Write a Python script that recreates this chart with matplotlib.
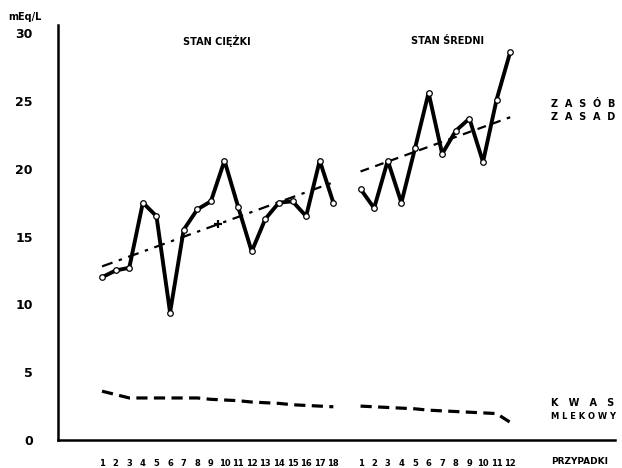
import numpy as np
import matplotlib
matplotlib.use('Agg')
import matplotlib.pyplot as plt

# zasób zasad - stan ciężki (przypadki 1-18) i stan średni (1-12)
ciezki_x = np.arange(1, 19)
ciezki_zasady = [12.0, 12.5, 12.7, 17.5, 16.5, 9.4, 15.5, 17.0, 17.6, 20.6,
                 17.2, 13.9, 16.3, 17.5, 17.6, 16.5, 20.6, 17.5]
sredni_x = np.arange(20, 32)
sredni_zasady = [18.5, 17.1, 20.6, 17.5, 21.5, 25.6, 21.1, 22.8, 23.7, 20.5,
                 25.1, 28.6]

# linie trendu (początek, koniec)
ciezki_trend = [12.8, 19.0]
sredni_trend = [19.8, 23.8]
ciezki_plus_x = 9.5

# kwas mlekowy
ciezki_kwas = [3.6, 3.35, 3.1, 3.1, 3.1, 3.1, 3.1, 3.1, 3.0, 2.95,
               2.9, 2.8, 2.75, 2.7, 2.6, 2.55, 2.5, 2.45]
sredni_kwas = [2.5, 2.45, 2.4, 2.35, 2.3, 2.2, 2.15, 2.1, 2.05, 2.0,
               1.95, 1.3]

y_ticks = [0, 5, 10, 15, 20, 25, 30]
ciezki_labels = [str(i) for i in range(1, 19)]
sredni_labels = [str(i) for i in range(1, 13)]

plt.rcParams['font.family'] = ['DejaVu Sans']
plt.rcParams['font.weight'] = 'bold'

fig = plt.figure(figsize=(6.22, 4.68), dpi=100)
ax = fig.add_axes([0.0932, 0.0598, 0.8955, 0.8868])

# zasób zasad
for xs, ys in [(ciezki_x, ciezki_zasady), (sredni_x, sredni_zasady)]:
    ax.plot(xs, ys, color='black', linewidth=2.8, solid_joinstyle='round',
            solid_capstyle='round',
            marker='o', markersize=4, markerfacecolor='white',
            markeredgecolor='black', markeredgewidth=0.9, zorder=3)

# trendy
ax.plot([ciezki_x[0], ciezki_x[-1]], ciezki_trend, color='black',
        linewidth=1.6, dashes=(5, 3, 1.5, 3), zorder=2)
t = (ciezki_plus_x - ciezki_x[0]) / (ciezki_x[-1] - ciezki_x[0])
ax.plot([ciezki_plus_x], [ciezki_trend[0] + t * (ciezki_trend[1] - ciezki_trend[0])],
        marker='+', color='black', markersize=6, markeredgewidth=1.6, zorder=2)
ax.plot([sredni_x[0], sredni_x[-1]], sredni_trend, color='black',
        linewidth=1.6, dashes=(4, 3), zorder=2)

# kwas mlekowy
ax.plot(ciezki_x, ciezki_kwas, color='black', linewidth=2.3, dashes=(3.5, 2))
ax.plot(sredni_x, sredni_kwas, color='black', linewidth=2.3, dashes=(3.5, 2))

ax.set_xlim(-2.24, 38.7)
ax.set_ylim(0, 30.6)

for side in ['top', 'right']:
    ax.spines[side].set_visible(False)
ax.spines['left'].set_linewidth(1.8)
ax.spines['bottom'].set_linewidth(1.8)

ax.set_yticks(y_ticks)
ax.set_yticklabels([str(v) for v in y_ticks], fontsize=9, fontweight='bold')
ax.tick_params(axis='y', length=0, pad=18)

ax.set_xticks(list(ciezki_x) + list(sredni_x))
ax.set_xticklabels(ciezki_labels + sredni_labels, fontsize=6, fontweight='bold')
ax.tick_params(axis='x', length=0, pad=14)

# opisy
ax.text(-4.7, 31.2, 'mEq/L', fontsize=7, fontweight='bold', ha='center',
        va='center', clip_on=False)
ax.text(9.4, 29.4, 'STAN CIĘŻKI', fontsize=7, fontweight='bold',
        ha='center', va='center')
ax.text(26.4, 29.4, 'STAN ŚREDNI', fontsize=7, fontweight='bold',
        ha='center', va='center')
ax.text(34.0, 24.8, 'Z  A  S  Ó  B', fontsize=7, fontweight='bold',
        ha='left', va='center')
ax.text(34.0, 23.8, 'Z  A  S  A  D', fontsize=7, fontweight='bold',
        ha='left', va='center')
ax.text(34.0, 2.75, 'K   W   A   S', fontsize=7, fontweight='bold',
        ha='left', va='center')
ax.text(34.0, 1.75, 'M L E K O W Y', fontsize=6, fontweight='bold',
        ha='left', va='center')
ax.text(34.0, -1.6, 'PRZYPADKI', fontsize=6.5, fontweight='bold',
        ha='left', va='center', clip_on=False)

fig.savefig('out.png', dpi=100)
